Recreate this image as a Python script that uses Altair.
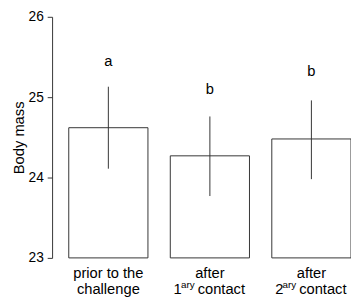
import altair as alt
import pandas as pd

categories = ["prior", "after1", "after2"]
means = [24.62, 24.27, 24.48]
lows = [24.11, 23.77, 23.98]
highs = [25.13, 24.76, 24.96]
letters = ["a", "b", "b"]
letter_pos = [25.39, 25.04, 25.26]
line1 = ["prior to the", "after", "after"]
line2 = ["challenge", "", ""]
sup_cats = ["after1", "after2"]
sup_digits = ["1", "2"]
sup_text = ["ary", "ary"]
sup_rest = ["contact", "contact"]
y_ticks = [23, 23.5, 24, 24.5, 25, 25.5, 26]

FONT = "Liberation Sans"
INK = "#333333"

df = pd.DataFrame({
    "cat": categories, "mean": means, "lo": lows, "hi": highs,
    "letter": letters, "lpos": letter_pos, "line1": line1, "line2": line2,
    "base": [23] * 3,
})
sup = pd.DataFrame({"cat": sup_cats, "digit": sup_digits, "sup": sup_text, "rest": sup_rest})

xenc = alt.X("cat:N", sort=categories, axis=None,
             scale=alt.Scale(paddingInner=0.22, paddingOuter=0.0))
yscale = alt.Scale(domain=[23, 26], zero=False, nice=False)
yaxis = alt.Axis(values=y_ticks, format="d", title="Body mass",
                 labelExpr="datum.value % 1 == 0 ? datum.label : ''")

bars = alt.Chart(df).mark_bar(fill="white", stroke=INK, strokeWidth=1).encode(
    x=xenc,
    y=alt.Y("mean:Q", scale=yscale, title="Body mass", axis=yaxis),
    y2="base:Q",
)
xs = alt.X("cat:N", sort=categories, axis=None)
err = alt.Chart(df).mark_rule(color=INK, strokeWidth=1).encode(
    x=xs, y=alt.Y("lo:Q", title="Body mass", axis=yaxis), y2="hi:Q")
lett = alt.Chart(df).mark_text(font=FONT, fontSize=15, baseline="alphabetic", color="black").encode(
    x=xs, y=alt.Y("lpos:Q", title="Body mass", axis=yaxis), text="letter:N")
l1 = alt.Chart(df).mark_text(font=FONT, fontSize=15, baseline="alphabetic", color="black").encode(
    x=xs, y=alt.value(266), text="line1:N")
l2 = alt.Chart(df).mark_text(font=FONT, fontSize=15, baseline="alphabetic", color="black").encode(
    x=xs, y=alt.value(283), text="line2:N")
d = alt.Chart(sup).mark_text(font=FONT, fontSize=15, baseline="alphabetic", align="left",
                             dx=-37, color="black").encode(
    x=xs, y=alt.value(283), text="digit:N")
s = alt.Chart(sup).mark_text(font=FONT, fontSize=10, baseline="alphabetic", align="left",
                             dx=-29.5, color="black").encode(
    x=xs, y=alt.value(277), text="sup:N")
r = alt.Chart(sup).mark_text(font=FONT, fontSize=15, baseline="alphabetic", align="left",
                             dx=-12.5, color="black").encode(
    x=xs, y=alt.value(283), text="rest:N")

chart = alt.layer(bars, err, lett, l1, l2, d, s, r).properties(
    width=288, height=246, background="white",
    autosize=alt.AutoSizeParams(type="none"),
    padding={"left": 62, "top": 6, "right": 0, "bottom": 42},
).configure_view(stroke=None).configure_axisY(
    grid=False, offset=17, tickSize=5, labelPadding=4, labelFontSize=14, labelFont=FONT,
    labelColor="black", titleFont=FONT, titleFontSize=15, titleFontWeight="normal",
    titleColor="black", titlePadding=2, domainColor=INK, tickColor=INK,
)

chart.save("out.html", embed_options={"renderer": "svg", "actions": False})
